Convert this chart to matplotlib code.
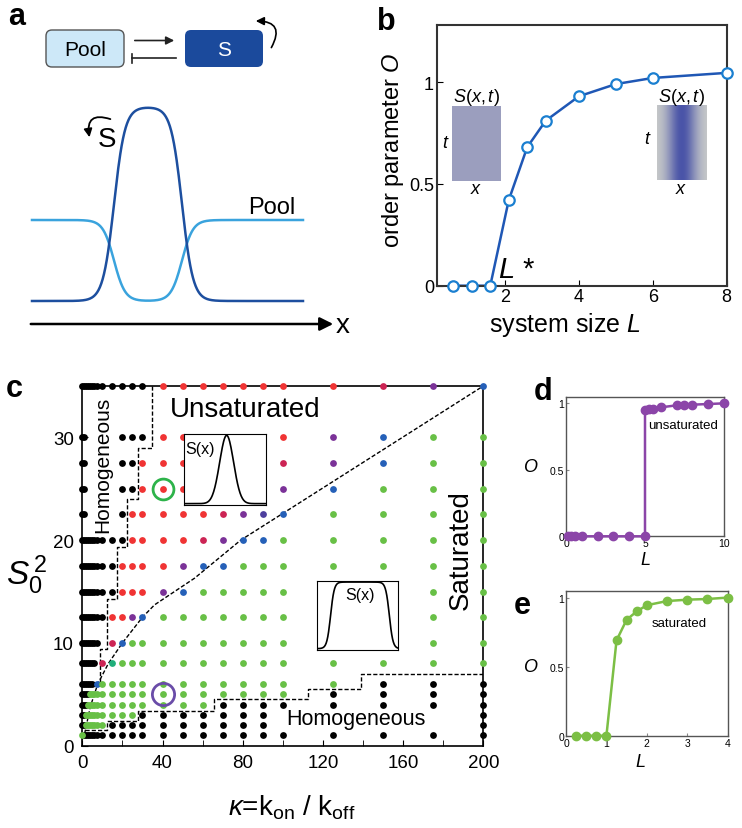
import numpy as np
import matplotlib
matplotlib.use('Agg')
import matplotlib.pyplot as plt
from matplotlib.patches import FancyBboxPatch, FancyArrowPatch
from matplotlib.colors import LinearSegmentedColormap

plt.rcParams['font.family'] = ['Liberation Sans', 'DejaVu Sans']
plt.rcParams['mathtext.fontset'] = 'custom'
plt.rcParams['mathtext.rm'] = 'Liberation Sans'
plt.rcParams['mathtext.it'] = 'Liberation Sans:italic'
plt.rcParams['mathtext.bf'] = 'Liberation Sans:bold'

W, H = 742, 829

# ---- data ----
# panel b: order parameter vs system size
L_b = [0.6, 1.1, 1.6, 2.1, 2.6, 3.1, 4.0, 5.0, 6.0, 8.0]
O_b = [0, 0, 0, 0.42, 0.68, 0.81, 0.93, 0.99, 1.02, 1.045]

# panel c: phase diagram grid
kappa_cols = [0, 1, 2, 3, 4, 5, 6, 7.5, 10, 15, 20, 25, 30, 40, 50, 60, 70, 80, 90, 100, 125, 150, 175, 200]
S0sq_rows = [35, 30, 27.5, 25, 22.5, 20, 17.5, 15, 12.5, 10, 8, 6, 5, 4, 3, 2, 1]
state_rows = [
    "KKKKKKKKKKKKKRRRRRRRRCPB",
    "KK........KKKRRRRRRRPBGG",
    "KK........KKRRRRRRRCPBGG",
    "KK........KKRRRRRRRPBGGG",
    "KK........KRRRRRCPVBGGGG",
    "KKKKKKKKKKKRRRRCPBBGGGGG",
    "KKKKKKKKKKRRRRPBBGGGGGGG",
    "KKKKKKKKKKRRRPBGGGGGGGGG",
    "KKKKKKKKKRRPBGGGGGGGGGGG",
    "KKKKKKKK.CBGGGGGGGGGGGGG",
    "KKKKKKK.CTGGGGGGGGGGGGGG",
    "KKKKKK.BGGGGGGGGGGGGGKKK",
    "KKKKGGGGGGGGGGGGGGGGKKKK",
    "KKKGGGGGGGGGGGGGKKKKKKKK",
    "KKGGGGGGGGGGKKKKKKK....K",
    "KKGGGGGGGKKKKKKKKKK....K",
    "GKKKKKKKKKKKKKKKKKKKKKKK",
]
state_colors = {'K': '#000000', 'R': '#f03434', 'C': '#cc2454', 'P': '#7b3298',
                'V': '#4d3f9e', 'B': '#2560b8', 'T': '#1fae7a', 'G': '#68c046'}

# boundaries in panel c
upper_kappa = [34.7, 34.7, 28, 28, 22.5, 22.5, 17.2, 17.2, 12.5, 12.5, 8.8, 8.8]
upper_S = [35, 29, 29, 24, 24, 19.3, 19.3, 14.3, 14.3, 9.4, 9.4, 6]
lower_kappa = [1.3, 12.2, 12.2, 28, 28, 65.5, 65.5, 112.5, 112.5, 139, 139, 200]
lower_S = [1.5, 1.5, 2.45, 2.45, 3.4, 3.4, 4.5, 4.5, 5.5, 5.5, 7.0, 7.0]
curve_kappa = [0, 1.3, 4, 7.7, 13, 20, 30, 36, 56, 79, 100, 150, 200]
curve_S = [0.6, 1.3, 3.8, 6, 8, 10, 12.5, 13.7, 16.3, 20, 22.6, 28.8, 35]

# panel d / e
L_d = [0.15, 0.3, 0.55, 1, 2, 3, 4, 5, 5, 5.25, 5.5, 6, 7, 7.5, 8, 9, 10]
O_d = [0, 0, 0, 0, 0, 0, 0, 0, 0.95, 0.955, 0.96, 0.97, 0.985, 0.99, 0.99, 0.995, 1.0]
L_e = [0.25, 0.5, 0.75, 1.0, 1.25, 1.5, 1.75, 2.0, 2.5, 3.0, 3.5, 4.0]
O_e = [0, 0, 0, 0, 0.69, 0.84, 0.90, 0.945, 0.975, 0.985, 0.99, 1.0]


def box(l, t, r, b):
    return [l / W, 1 - b / H, (r - l) / W, (b - t) / H]


def ftext(x, y, s, **kw):
    fig.text(x / W, 1 - y / H, s, **kw)


fig = plt.figure(figsize=(W / 100, H / 100), dpi=100)

# ================= panel a (schematic, pixel coords) =================
axa = fig.add_axes(box(0, 0, 380, 340))
axa.set_xlim(0, 380)
axa.set_ylim(340, 0)
axa.axis('off')

axa.add_patch(FancyBboxPatch((46, 31), 78, 37, boxstyle='round,pad=0,rounding_size=6',
                             fc='#cde8f8', ec='#555555', lw=1))
axa.text(85, 50, 'Pool', fontsize=15, ha='center', va='center')
axa.add_patch(FancyBboxPatch((185, 31), 78, 37, boxstyle='round,pad=0,rounding_size=6',
                             fc='#1b4a9c', ec='none'))
axa.text(224, 50, 'S', fontsize=15, ha='center', va='center', color='white')
axa.add_patch(FancyArrowPatch((132, 41.5), (177, 41.5), arrowstyle='-|>', mutation_scale=12,
                              color='#222222', lw=1.2))
axa.plot([132, 176], [59, 59], color='#222222', lw=1.2)
axa.plot([132, 132], [54.5, 63.5], color='#222222', lw=1.2)
axa.add_patch(FancyArrowPatch((270, 51), (253, 22), connectionstyle='arc3,rad=0.9',
                              arrowstyle='-|>', mutation_scale=12, color='black', lw=1.2))

xa = np.linspace(32, 303, 400)
bump = 0.5 * (np.tanh((xa - 114) / 11) - np.tanh((xa - 182) / 11))
axa.plot(xa, 221 + 81 * bump, color='#3aa3dd', lw=1.8)
axa.plot(xa, 302 - 194 * bump, color='#1d4f9f', lw=1.8)
axa.text(272, 208, 'Pool', fontsize=17, ha='center', va='center')
axa.text(107, 140, 'S', fontsize=20, ha='center', va='center')
axa.add_patch(FancyArrowPatch((113, 121), (90, 141), connectionstyle='arc3,rad=0.9',
                              arrowstyle='-|>', mutation_scale=12, color='black', lw=1.3))
axa.add_patch(FancyArrowPatch((28, 325), (336, 325), arrowstyle='-|>', mutation_scale=20,
                              color='black', lw=1.8))
axa.text(343, 326, 'x', fontsize=20, ha='center', va='center')

# ================= panel b =================
axb = fig.add_axes(box(436.7, 26, 726.7, 286.7))
axb.plot(L_b, O_b, '-', color='#1f57b5', lw=1.8, zorder=2)
axb.plot(L_b, O_b, 'o', mfc='white', mec='#1a7fd0', ms=7.5, mew=1.6, zorder=3, clip_on=False)
axb.set_xlim(0.15, 8)
axb.set_ylim(0, 1.28)
axb.set_xticks([2, 4, 6, 8])
axb.set_yticks([0, 0.5, 1])
axb.set_yticklabels(['0', '0.5', '1'])
axb.tick_params(direction='in', labelsize=13, length=4, pad=2)
for sp in axb.spines.values():
    sp.set_linewidth(1.5)
    sp.set_color('#333333')
axb.text(1.8, 0.08, r'$L$ *', fontsize=21, ha='left', va='center')
ftext(393, 150, r'order parameter $O$', fontsize=17, rotation=90, ha='center', va='center')
ftext(565, 325, r'system size $L$', fontsize=18, ha='center', va='center')

# inset images
ins_l = fig.add_axes(box(451.7, 107.3, 500.7, 182))
ins_l.imshow(np.zeros((10, 10)), cmap=LinearSegmentedColormap.from_list('u', ['#9b9ebe', '#9b9ebe']),
             aspect='auto')
ins_l.axis('off')
ftext(476, 97, r'$S(x,t)$', fontsize=13, ha='center', va='center')
ftext(446, 143, r'$t$', fontsize=13, ha='center', va='center')
ftext(476, 190, r'$x$', fontsize=13, ha='center', va='center')

ins_r = fig.add_axes(box(656.7, 106, 706, 180.7))
u = np.linspace(0, 1, 60)
band = np.exp(-((u - 0.5) / 0.3) ** 2)
ins_r.imshow(np.tile(band, (10, 1)), cmap=LinearSegmentedColormap.from_list('g', ['#cbcdca', '#4a54a8']),
             aspect='auto', vmin=0, vmax=1)
ins_r.axis('off')
ftext(681, 97, r'$S(x,t)$', fontsize=13, ha='center', va='center')
ftext(648, 140, r'$t$', fontsize=13, ha='center', va='center')
ftext(681, 189, r'$x$', fontsize=13, ha='center', va='center')

# ================= panel c =================
axc = fig.add_axes(box(82.3, 387, 483.3, 746.7))
axc.set_xlim(0, 200)
axc.set_ylim(0, 35)
axc.plot(upper_kappa, upper_S, color='black', lw=1, ls=(0, (3, 1.5)), zorder=2)
axc.plot(lower_kappa, lower_S, color='black', lw=1, ls=(0, (3, 1.5)), zorder=2)
axc.plot(curve_kappa, curve_S, color='black', lw=1, ls=(0, (3, 1.5)), zorder=2)
for code, col in state_colors.items():
    xs, ys = [], []
    for s0, row in zip(S0sq_rows, state_rows):
        for k, ch in zip(kappa_cols, row):
            if ch == code:
                xs.append(k)
                ys.append(s0)
    axc.scatter(xs, ys, s=24, color=col, lw=0, zorder=3, clip_on=False)
axc.plot([40], [25], 'o', mfc='none', mec='#2db34a', ms=15, mew=2, zorder=4)
axc.plot([40], [5], 'o', mfc='none', mec='#6a4ca8', ms=16, mew=2, zorder=4)
axc.set_xticks([0, 40, 80, 120, 160, 200])
axc.set_xticks(np.arange(20, 200, 40), minor=True)
axc.set_yticks([0, 10, 20, 30])
axc.tick_params(which='both', direction='in', labelsize=13.5, length=4, pad=6)
for sp in axc.spines.values():
    sp.set_linewidth(1.2)
axc.text(81, 32.8, 'Unsaturated', fontsize=20, ha='center', va='center')
axc.text(10.4, 27.4, 'Homogeneous', fontsize=15, rotation=90, ha='center', va='center')
axc.text(136.6, 2.6, 'Homogeneous', fontsize=15.5, ha='center', va='center')
axc.text(188.6, 19.1, 'Saturated', fontsize=20, rotation=90, ha='center', va='center')
ftext(292, 808, r'$\kappa$=k$_{\rm on}$ / k$_{\rm off}$', fontsize=20, ha='center', va='center')
ftext(27, 575, r'$S_0^{\,2}$', fontsize=24, ha='center', va='center')

xi = np.linspace(0, 1, 200)
ic1 = fig.add_axes(box(184, 435, 266, 506))
ic1.plot(xi, np.exp(-((xi - 0.52) / 0.12) ** 2), color='black', lw=1.2)
ic1.set_xlim(0, 1)
ic1.set_ylim(-0.02, 1.02)
ic1.set_xticks([])
ic1.set_yticks([])
ic1.text(0.02, 0.8, 'S(x)', fontsize=11.5, transform=ic1.transAxes, ha='left', va='center')

ic2 = fig.add_axes(box(316.7, 581.7, 398.3, 651))
ic2.plot(xi, 0.5 * (np.tanh((xi - 0.17) / 0.045) - np.tanh((xi - 0.89) / 0.045)), color='black', lw=1.2)
ic2.set_xlim(0, 1)
ic2.set_ylim(-0.02, 1.02)
ic2.set_xticks([])
ic2.set_yticks([])
ic2.text(0.53, 0.8, 'S(x)', fontsize=11.5, transform=ic2.transAxes, ha='center', va='center')

# ================= panels d, e =================
def small_panel(rect, L, O, col, xmax, xticks, note, note_xy):
    ax = fig.add_axes(rect)
    ax.plot(L, O, '-o', color=col, lw=1.8, ms=6, clip_on=False, zorder=3)
    ax.set_xlim(0, xmax)
    ax.set_ylim(0, 1.05)
    ax.set_xticks(xticks)
    ax.set_yticks([0, 0.5, 1])
    ax.set_yticklabels(['0', '0.5', '1'])
    ax.tick_params(direction='in', labelsize=7.5, length=2, pad=1.5, color='#888888')
    for sp in ax.spines.values():
        sp.set_color('#555555')
        sp.set_linewidth(1)
    ax.text(*note_xy, note, fontsize=9.5, ha='center', va='center', transform=ax.transAxes)
    return ax

small_panel(box(566, 397.7, 724, 537.3), L_d, O_d, '#8b45a8', 10, [0, 5, 10], 'unsaturated', (0.74, 0.8))
small_panel(box(566, 591.7, 727.7, 736.7), L_e, O_e, '#7cbf45', 4, [0, 1, 2, 3, 4], 'saturated', (0.7, 0.78))
ftext(531, 468, r'$O$', fontsize=13, ha='center', va='center')
ftext(645, 561, r'$L$', fontsize=13, ha='center', va='center')
ftext(531, 668, r'$O$', fontsize=13, ha='center', va='center')
ftext(640, 763, r'$L$', fontsize=13, ha='center', va='center')

# panel letters
for letter, x, y in [('a', 17, 17), ('b', 386, 22), ('c', 14, 389), ('d', 543, 392), ('e', 522, 606)]:
    ftext(x, y, letter, fontsize=22, fontweight='bold', ha='center', va='center')

fig.savefig('out.png', dpi=100)
